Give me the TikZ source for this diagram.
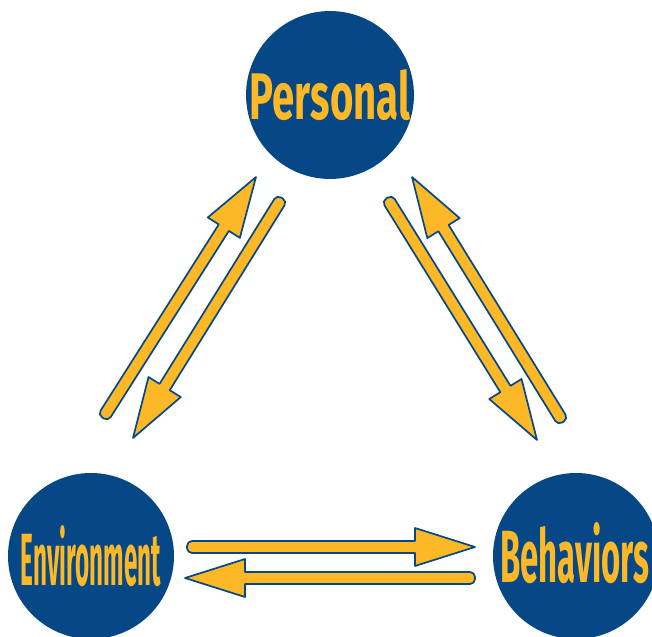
\documentclass[tikz,border=0pt]{standalone}
\usepackage{fontspec}
\usepackage{tikz}
\usetikzlibrary{calc}
\newfontfamily\labelfont{Fira Sans}
\definecolor{bord}{HTML}{064785}
\definecolor{gold}{HTML}{FDB827}
\tikzset{
  circ/.style={circle, fill=bord, minimum size=166pt, inner sep=0pt, text=gold},
  blockarrow/.style={draw=bord, fill=gold, line width=1.7pt, line join=round}
}
\newcommand{\blockarrow}[2]{%
  \draw[blockarrow] let \p1=($(#2)-(#1)$), \n1={atan2(\y1,\x1)}, \n2={veclen(\x1,\y1)} in
    [shift={(#1)}, rotate=\n1]
    (\n2,0pt) -- ({\n2-60pt},19pt) -- ({\n2-60pt},6pt)
    [rounded corners=5pt] -- (0pt,6pt) -- (0pt,-6pt) [sharp corners]
    -- ({\n2-60pt},-6pt) -- ({\n2-60pt},-19pt) -- cycle;}
\begin{document}
\begin{tikzpicture}[x=1pt, y=-1pt]
        \useasboundingbox (0,0) rectangle (652,636);
        \clip (0,0) rectangle (652,636);
        % circles
        \node[circ] (pers) at (330, 95) {\resizebox{160pt}{50pt}{\labelfont\bfseries Personal}};
        \node[circ] (env) at (91, 556) {\resizebox{140pt}{60pt}{\labelfont\bfseries Environment}};
        \node[circ] (beh) at (576, 556) {};
        \node[text=gold, anchor=west, inner sep=0pt] (behtext) at (500, 553) {\resizebox{149pt}{60pt}{\labelfont\bfseries Behaviors}};
        % arrow ends
        \coordinate (ep1) at (103, 418);
        \coordinate (ep2) at (256, 177);
        \coordinate (pe1) at (282, 198);
        \coordinate (pe2) at (133, 438);
        \coordinate (pb1) at (387, 198);
        \coordinate (pb2) at (537, 440);
        \coordinate (bp1) at (563, 422);
        \coordinate (bp2) at (412, 177);
        \coordinate (eb1) at (187, 547);
        \coordinate (eb2) at (475, 547);
        \coordinate (be1) at (475, 578);
        \coordinate (be2) at (185, 578);
        % arrows
        \blockarrow{ep1}{ep2}
        \blockarrow{pe1}{pe2}
        \blockarrow{pb1}{pb2}
        \blockarrow{bp1}{bp2}
        \blockarrow{eb1}{eb2}
        \blockarrow{be1}{be2}
      \end{tikzpicture}
\end{document}
